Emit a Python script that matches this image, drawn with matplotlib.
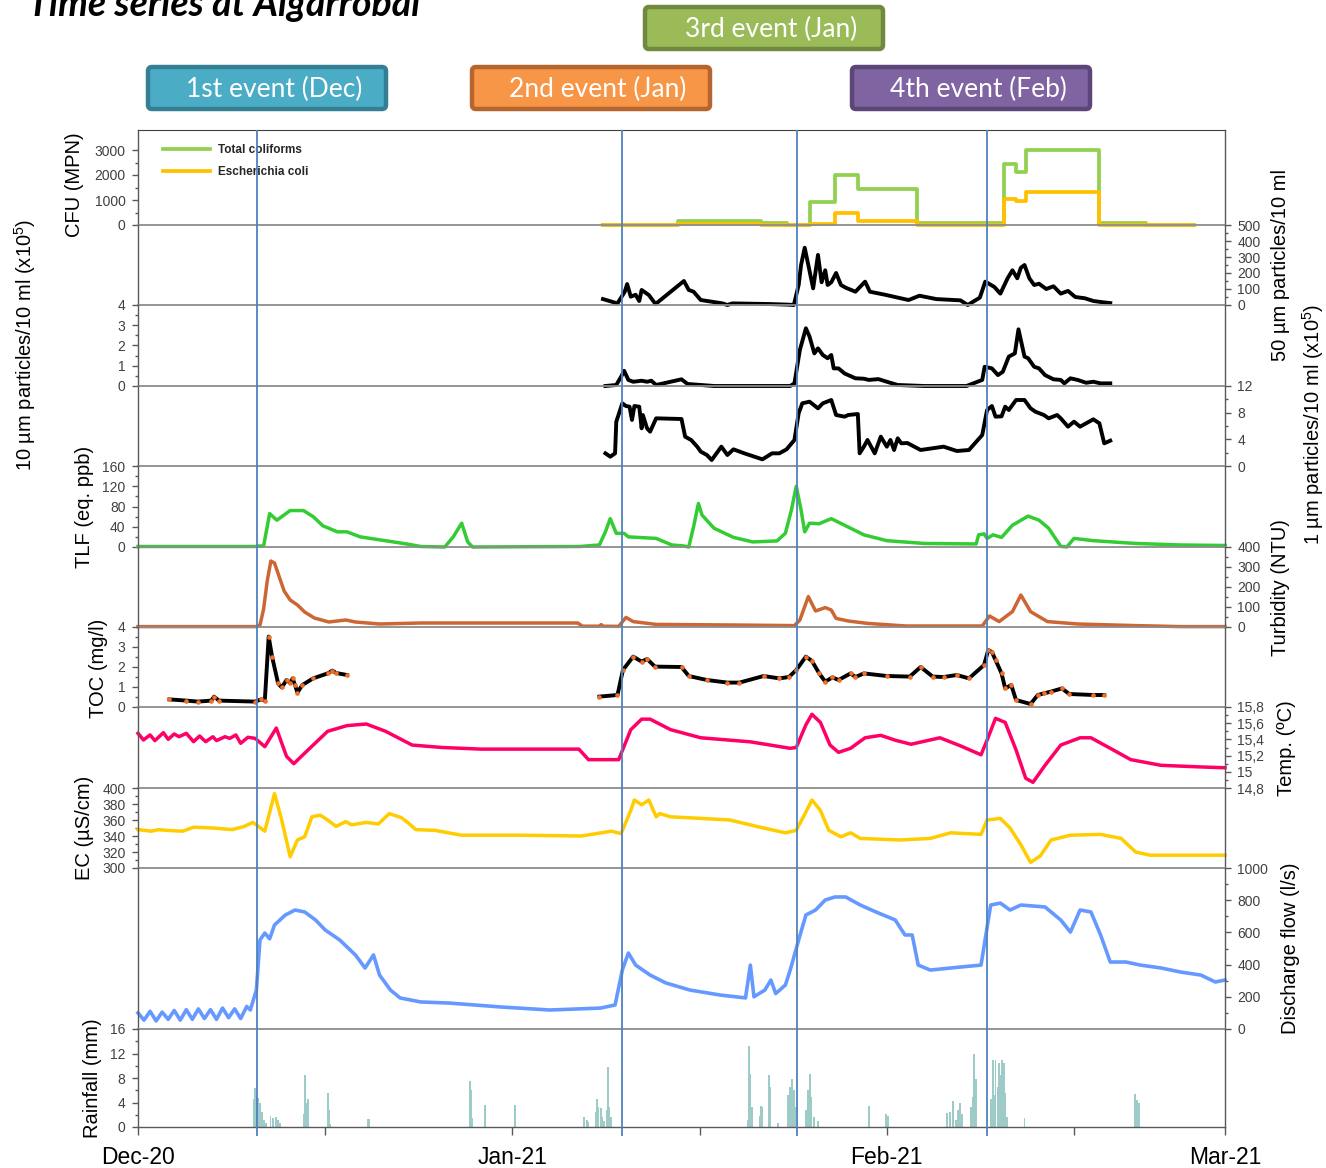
import numpy as np
import matplotlib
matplotlib.use('Agg')
import matplotlib.pyplot as plt
from matplotlib.patches import FancyBboxPatch
from matplotlib.ticker import FixedLocator, FixedFormatter

plt.rcParams['font.family'] = ['Liberation Sans', 'DejaVu Sans']
plt.rcParams['mathtext.fontset'] = 'custom'
plt.rcParams['mathtext.rm'] = 'Liberation Sans'
plt.rcParams['mathtext.it'] = 'Liberation Sans:italic'

# time in days counted from 1 Dec 2020 (Dec-20 = 0, Jan-21 = 31, Feb-21 = 62, Mar-21 = 90)
month_days = [0, 31, 62, 90]
month_labels = ['Dec-20', 'Jan-21', 'Feb-21', 'Mar-21']
event_days = [9.85, 40.05, 54.55, 70.3]
event_names = ['1st event (Dec)', '2nd event (Jan)', '3rd event (Jan)', '4th event (Feb)']

# CFU (MPN) step series
tc_day = [38.5, 44.7, 51.6, 53.7, 55.6, 57.7, 59.6, 64.5, 71.7, 72.7, 73.5, 79.6, 83.5, 87.4]
tc_val = [0, 173, 80, 0, 907, 2000, 1427, 80, 2427, 2107, 3000, 67, 0, 0]
ecoli_day = [38.5, 40.5, 44.7, 51.6, 55.6, 57.7, 59.6, 64.5, 71.7, 72.7, 73.5, 79.6, 87.4]
ecoli_val = [0, 10, 50, 5, 27, 480, 160, 0, 1040, 970, 1307, 0, 0]

# 50 um particles/10 ml
p50_day = [38.5, 39.7, 40.3, 40.5, 40.8, 41.2, 41.5, 41.7, 42.3, 42.85, 45.2, 45.6, 46.0, 46.6, 48.4,
           48.8, 49.2, 52.3, 53.9, 54.3, 54.7, 54.9, 55.2, 55.5, 55.9, 56.3, 56.6, 56.9, 57.1, 57.4,
           57.8, 58.2, 58.6, 59.4, 60.2, 60.6, 61.8, 63.8, 64.7, 66.1, 68.1, 68.7, 69.7, 70.15, 70.9,
           71.4, 72.0, 72.4, 72.8, 73.1, 73.4, 73.8, 74.2, 74.6, 75.2, 75.8, 76.4, 77.0, 77.6, 78.4,
           79.1, 79.9, 80.5]
p50_val = [37, 10, 83, 131, 52, 64, 25, 94, 62, 6, 150, 94, 83, 31, 10,
           0, 10, 6, 2, 0, 125, 250, 358, 250, 104, 313, 142, 217, 125, 142,
           200, 125, 108, 83, 146, 83, 65, 31, 58, 37, 29, 0, 46, 146, 113,
           71, 167, 217, 167, 233, 250, 167, 125, 133, 100, 117, 71, 88, 50, 42,
           25, 17, 12]

# 10 um particles/10 ml (x10^5)
p10_day = [38.7, 39.6, 40.0, 40.25, 40.6, 41.0, 41.7, 42.15, 42.5, 42.9, 45.0, 45.5, 47.7, 54.0, 54.35,
           54.8, 55.3, 55.6, 56.0, 56.3, 56.7, 57.1, 57.4, 57.6, 58.0, 58.5, 59.4, 60.1, 60.5, 61.3,
           62.0, 62.9, 65.1, 68.6, 69.9, 70.1, 70.7, 71.2, 71.6, 72.1, 72.6, 72.9, 73.4, 73.7, 74.2,
           74.6, 75.1, 75.8, 76.4, 76.7, 77.2, 77.8, 78.5, 79.1, 79.7, 80.5]
p10_val = [0, 0.05, 0.46, 0.75, 0.30, 0.21, 0.26, 0.21, 0.26, 0.05, 0.33, 0.10, 0, 0, 0.13,
           1.78, 2.85, 2.44, 1.61, 1.86, 1.53, 1.37, 1.53, 0.87, 0.87, 0.62, 0.38, 0.36, 0.30, 0.34,
           0.21, 0.05, 0, 0, 0.30, 0.95, 0.87, 0.54, 0.70, 1.45, 1.61, 2.80, 1.45, 1.37, 0.95,
           0.87, 0.54, 0.33, 0.30, 0.13, 0.38, 0.30, 0.16, 0.21, 0.13, 0.13]

# 1 um particles/10 ml (x10^5)
p1_day = [38.7, 39.1, 39.5, 39.6, 40.1, 40.4, 40.7, 40.9, 41.1, 41.5, 41.7, 41.8, 42.15, 42.4, 42.9,
          45.0, 45.3, 45.8, 46.3, 46.6, 47.1, 47.5, 48.3, 48.8, 49.3, 50.2, 51.7, 52.5, 53.1, 53.7,
          54.35, 54.7, 55.0, 55.6, 56.3, 56.7, 57.4, 57.8, 58.5, 58.8, 59.6, 59.75, 60.1, 60.4, 60.7,
          61.0, 61.5, 62.0, 62.3, 62.6, 62.9, 63.2, 63.7, 64.8, 66.7, 67.8, 68.8, 69.9, 70.3, 70.7,
          71.0, 71.5, 71.8, 72.1, 72.7, 73.4, 73.9, 74.3, 75.0, 75.4, 76.1, 76.4, 77.0, 77.5, 78.0,
          78.5, 79.1, 79.6, 80.0, 80.5]
p1_val = [1.9, 1.4, 1.9, 6.65, 9.4, 9.0, 8.9, 6.9, 9.0, 8.9, 5.65, 7.65, 5.65, 5.15, 7.15,
          7.05, 4.4, 3.9, 2.9, 2.15, 1.65, 0.9, 2.9, 1.65, 2.5, 1.9, 1.0, 1.9, 1.9, 2.5,
          3.9, 7.9, 9.4, 9.65, 8.65, 9.4, 9.9, 7.65, 7.4, 7.65, 7.8, 1.9, 2.9, 3.9, 2.9,
          1.9, 4.4, 2.9, 3.9, 2.4, 4.15, 3.4, 3.45, 2.4, 2.9, 2.25, 2.4, 4.65, 8.4, 9.0,
          7.4, 7.45, 8.9, 8.4, 9.9, 9.9, 8.65, 8.15, 7.65, 7.15, 7.65, 7.15, 5.9, 6.65, 5.9,
          6.4, 7.0, 6.4, 3.4, 3.8]

# TLF (eq. ppb)
tlf_day = [0, 9.7, 10.0, 10.4, 10.9, 11.5, 12.6, 13.7, 14.5, 15.3, 16.5, 17.3, 18.4, 21.7, 22.5,
           23.4, 25.4, 26.1, 26.8, 27.3, 27.7, 36.6, 38.2, 38.7, 39.1, 39.6, 40.25, 40.6, 42.9, 44.2,
           45.2, 45.6, 46.0, 46.4, 46.7, 47.7, 49.3, 50.9, 52.9, 53.6, 54.1, 54.5, 54.9, 55.2, 55.6,
           56.4, 57.4, 58.5, 60.1, 62.0, 65.1, 69.4, 69.6, 70.05, 70.3, 70.8, 71.5, 72.4, 73.7, 74.6,
           75.4, 76.4, 76.9, 77.5, 79.1, 82.6, 86.3, 90]
tlf_val = [1, 1, 2, 2, 66, 53, 72, 72, 60, 42, 30, 30, 20, 8, 5,
           1, 0, 20, 47, 10, 0, 1, 4, 30, 56, 27, 27, 20, 17, 4,
           2, 0, 40, 86, 63, 37, 19, 10, 12, 27, 73, 120, 73, 30, 47,
           46, 56, 43, 24, 12.5, 7, 6, 24, 26, 17, 24, 19, 43, 61, 53,
           37, 1.3, 0, 17, 12.5, 7, 4, 3]

# Turbidity (NTU)
turb_day = [0, 9.8, 10.1, 10.4, 10.7, 11.0, 11.3, 11.7, 12.1, 12.6, 13.2, 13.8, 14.6, 15.8, 17.2,
            18.0, 20.0, 23.4, 30.0, 36.4, 36.8, 38.2, 38.35, 38.5, 39.8, 40.4, 41.0, 42.9, 49.3, 54.35,
            54.8, 55.5, 56.1, 56.9, 57.4, 57.8, 58.8, 60.4, 63.6, 69.9, 70.5, 71.3, 72.4, 73.1, 73.9,
            75.3, 77.8, 82.6, 86.3, 90]
turb_val = [2, 2, 10, 90, 230, 330, 320, 250, 180, 135, 110, 75, 45, 25, 35,
            25, 15, 20, 20, 20, 4, 4, 12, 4, 3, 48, 27, 13, 10, 7,
            35, 152, 80, 97, 85, 43, 30, 18, 5, 5, 55, 27, 77, 160, 77,
            27, 15, 7, 2, 2]

# TOC (mg/l), gap between the two sampling campaigns
toc_day = [2.6, 4.0, 4.95, 6.07, 6.3, 6.7, 9.7, 10.2, 10.5, 10.82, 11.1, 11.6, 11.9, 12.3, 12.6,
           12.8, 13.0, 13.2, 13.6, 14.5, 15.7, 16.1, 16.4, 17.3, np.nan,
           38.2, 39.7, 40.15, 41.0, 41.7, 42.15, 42.8, 45.0, 45.6, 47.1, 48.8, 49.8, 51.8, 53.1, 53.9,
           54.5, 55.3, 55.8, 56.4, 56.9, 57.5, 58.0, 59.0, 59.4, 60.1, 62.0, 63.9, 64.8, 65.8, 66.7,
           67.8, 68.8, 70.05, 70.4, 70.7, 71.0, 71.5, 71.8, 72.3, 72.7, 73.9, 74.5, 75.0, 75.6, 76.5,
           77.1, 79.1, 80.0]
toc_val = [0.38, 0.32, 0.27, 0.32, 0.52, 0.32, 0.27, 0.38, 0.32, 3.52, 2.52, 1.18, 0.98, 1.35, 1.2,
           1.43, 1.1, 0.72, 1.1, 1.43, 1.68, 1.82, 1.7, 1.6, np.nan,
           0.52, 0.6, 1.85, 2.52, 2.27, 2.4, 2.02, 2.0, 1.55, 1.35, 1.22, 1.22, 1.55, 1.43, 1.5,
           1.85, 2.52, 2.3, 1.68, 1.27, 1.48, 1.35, 1.68, 1.5, 1.68, 1.55, 1.52, 2.0, 1.52, 1.5,
           1.6, 1.43, 2.1, 2.85, 2.75, 2.35, 1.68, 0.93, 1.1, 0.35, 0.15, 0.6, 0.68, 0.77, 0.93,
           0.65, 0.6, 0.6]

# Temperature (C)
temp_day = [0, 0.45, 1.0, 1.4, 2.1, 2.5, 3.0, 3.4, 4.0, 4.6, 5.1, 5.6, 6.2, 6.5, 7.2,
            7.6, 8.1, 8.5, 9.1, 9.7, 10.5, 11.45, 12.3, 12.9, 13.8, 15.7, 17.3, 18.9, 20.5, 22.7,
            25.2, 28.4, 36.5, 37.3, 39.8, 40.8, 41.7, 42.4, 44.1, 46.6, 50.7, 54.0, 54.5, 55.3, 55.8,
            56.5, 57.3, 58.0, 59.0, 60.2, 61.5, 62.7, 64.0, 65.2, 66.4, 68.1, 69.8, 70.3, 71.0, 71.8,
            72.7, 73.5, 74.1, 75.1, 76.4, 78.0, 78.9, 80.5, 82.2, 84.7, 88.0, 90]
temp_val = [15.475, 15.393, 15.455, 15.385, 15.483, 15.401, 15.467, 15.433, 15.475, 15.372, 15.442,
            15.372, 15.433, 15.385, 15.433, 15.413, 15.455, 15.352, 15.426, 15.413, 15.31, 15.54,
            15.19, 15.10, 15.23, 15.50, 15.57, 15.59, 15.50, 15.33, 15.30, 15.28, 15.28, 15.15,
            15.15, 15.52, 15.65, 15.65, 15.52, 15.42, 15.37, 15.29, 15.30, 15.58, 15.71, 15.61,
            15.33, 15.24, 15.29, 15.42, 15.45, 15.39, 15.34, 15.38, 15.42, 15.32, 15.21, 15.39,
            15.66, 15.61, 15.27, 14.92, 14.87, 15.08, 15.33, 15.42, 15.42, 15.29, 15.15, 15.08,
            15.06, 15.05]

# EC (uS/cm)
ec_day = [0, 1.1, 1.7, 2.4, 3.7, 4.6, 6.2, 7.8, 8.8, 9.5, 9.8, 10.5, 11.3, 11.9, 12.6,
          13.2, 13.8, 14.4, 15.1, 15.7, 16.4, 17.2, 17.7, 18.9, 19.9, 20.8, 21.8, 22.4, 23.0, 24.6,
          26.8, 31.6, 36.7, 39.2, 40.0, 40.8, 41.1, 41.7, 42.3, 42.9, 43.2, 44.1, 46.6, 49.0, 51.5,
          53.6, 54.5, 55.3, 55.8, 56.5, 57.2, 58.2, 59.0, 59.8, 63.1, 65.6, 67.3, 69.8, 70.3, 71.4,
          72.2, 73.1, 73.9, 74.7, 75.6, 77.2, 79.7, 81.4, 82.6, 83.8, 90]
ec_val = [348, 346, 348, 347, 346, 351, 350, 348, 352, 357, 354, 346, 393, 360, 314,
          335, 339, 364, 366, 360, 352, 358, 354, 357, 355, 368, 363, 356, 348, 347,
          341, 341, 340, 346, 343, 372, 385, 379, 385, 364, 368, 364, 362, 360, 351,
          344, 347, 370, 385, 372, 347, 339, 344, 337, 335, 337, 344, 342, 360, 362,
          350, 329, 307, 315, 335, 341, 342, 337, 320, 316, 316]

# Discharge flow (l/s)
q_day = [0, 0.5, 1.0, 1.5, 2.0, 2.5, 3.0, 3.5, 4.0, 4.5, 5.0, 5.5, 6.0, 6.5, 7.0,
         7.5, 8.0, 8.5, 9.0, 9.3, 9.8, 10.1, 10.5, 10.9, 11.3, 12.2, 13.0, 13.8, 14.7, 15.5,
         16.7, 18.0, 18.8, 19.5, 20.0, 20.9, 21.7, 23.4, 25.8, 30.0, 34.1, 38.3, 39.5, 40.1, 40.6,
         41.2, 42.4, 43.7, 45.7, 48.2, 50.3, 50.7, 51.0, 51.9, 52.4, 52.8, 53.6, 54.0, 54.7, 55.3,
         56.1, 56.9, 57.7, 58.6, 59.8, 61.1, 62.7, 63.5, 64.1, 64.6, 65.6, 67.3, 69.8, 70.2, 70.6,
         71.4, 72.2, 73.1, 75.1, 76.4, 77.2, 78.0, 78.9, 79.7, 80.5, 81.8, 83.0, 84.7, 86.3, 88.0,
         89.2, 90]
q_val = [100, 55, 110, 50, 105, 60, 115, 55, 120, 60, 125, 65, 120, 60, 130,
         70, 125, 65, 140, 118, 242, 553, 596, 560, 646, 708, 739, 727, 677, 615,
         553, 460, 379, 460, 335, 242, 193, 168, 161, 137, 118, 130, 149, 366, 472,
         397, 335, 286, 242, 211, 193, 397, 200, 242, 304, 220, 273, 366, 553, 708,
         739, 801, 820, 820, 770, 727, 677, 584, 584, 397, 366, 379, 397, 584, 770,
         782, 739, 770, 758, 677, 602, 739, 727, 584, 416, 416, 397, 379, 354, 335,
         292, 304]

# Rainfall (mm)
rain_day = [9.58, 9.65, 9.76, 9.85, 9.93, 10.1, 10.3, 10.45, 10.6, 10.97, 11.2, 11.4, 11.6, 11.75,
            13.77, 13.86, 13.95, 14.05, 14.1, 15.7, 15.75, 15.82, 15.9, 19.0, 19.1,
            27.45, 27.5, 27.58, 27.65, 28.75, 31.2,
            36.95, 37.15, 37.3, 37.9, 38.0, 38.1, 38.35, 38.45, 38.6, 38.8, 38.9, 39.0, 39.15,
            50.53, 50.6, 50.7, 50.8, 51.46, 51.6, 51.7, 52.25, 52.35, 53.0,
            53.8, 54.0, 54.17, 54.3, 54.4, 55.3, 55.5, 55.65, 55.75, 55.98, 56.3,
            60.52, 61.9, 62.1,
            67.0, 67.2, 67.5, 67.7, 67.9, 68.06, 68.2, 68.98, 69.1, 69.25, 69.38,
            70.64, 70.77, 70.9, 71.0, 71.17, 71.3, 71.43, 71.56, 71.7, 71.8, 71.96, 73.4,
            82.55, 82.7, 82.85]
rain_mm = [4.5, 6.4, 4.9, 4.8, 4.8, 3.9, 2.5, 1.2, 0.6, 1.8, 1.5, 1.6, 1.2, 0.6,
           2.2, 8.5, 3.9, 4.6, 2.0, 2.5, 5.6, 2.8, 0.5, 1.3, 1.3,
           4.0, 7.5, 6.0, 1.5, 3.6, 3.6,
           1.7, 1.2, 0.8, 2.5, 4.5, 3.3, 3.1, 1.7, 0.9, 2.8, 9.8, 3.3, 1.7,
           1.1, 13.2, 8.7, 3.3, 1.8, 3.5, 3.3, 8.5, 6.6, 0.7,
           5.2, 6.6, 7.9, 6.0, 3.3, 2.8, 6.0, 8.6, 4.9, 1.7, 0.9,
           3.4, 2.2, 1.8,
           2.3, 2.5, 4.2, 1.1, 2.8, 3.9, 2.2, 3.3, 4.9, 12.0, 7.9,
           4.6, 11.0, 5.2, 10.9, 6.6, 10.4, 8.5, 11.0, 10.4, 5.5, 1.7, 1.4,
           5.4, 4.4, 3.9]

W, H = 1326, 1168
L, R = 138, 1225
fig = plt.figure(figsize=(W / 100, H / 100), dpi=100)
spine_col = '#595959'
grid_col = '#8c8c8c'


def panel(top, bot, ylim, side, major, minor, labels=None, first=False):
    ax = fig.add_axes([L / W, 1 - bot / H, (R - L) / W, (bot - top) / H])
    ax.patch.set_visible(False)
    ax.set_xlim(0, 90)
    ax.set_ylim(*ylim)
    for s in ['left', 'right']:
        ax.spines[s].set_color(spine_col)
        ax.spines[s].set_linewidth(1.0)
    ax.spines['bottom'].set_color(grid_col)
    ax.spines['bottom'].set_linewidth(1.3)
    ax.spines['top'].set_visible(first)
    ax.spines['top'].set_color('#404040')
    ax.tick_params(axis='x', which='both', bottom=False, labelbottom=False)
    if side == 'left':
        ax.yaxis.tick_left()
    else:
        ax.yaxis.tick_right()
    ax.yaxis.set_major_locator(FixedLocator(major))
    if labels is None:
        labels = [str(v) for v in major]
    ax.yaxis.set_major_formatter(FixedFormatter(labels))
    ax.yaxis.set_minor_locator(FixedLocator(minor))
    ax.tick_params(axis='y', which='major', direction='out', length=4, width=1,
                   color=spine_col, labelsize=10, labelcolor='#404040', pad=5)
    ax.tick_params(axis='y', which='minor', direction='out', length=2.5, width=1, color=spine_col)
    return ax


def line(ax, x, y, color, lw=2.5, **kw):
    ax.plot(x, y, color=color, lw=lw, clip_on=False, solid_joinstyle='round', **kw)


# CFU
ax = panel(130, 225, (0, 3800), 'left', [0, 1000, 2000, 3000], [500, 1500, 2500], first=True)
ax.step(tc_day, tc_val, where='post', color='#92D050', lw=2.7, clip_on=False, label='Total coliforms')
ax.step(ecoli_day, ecoli_val, where='post', color='#FFC000', lw=2.7, clip_on=False, label='Escherichia coli')
leg = ax.legend(loc='upper left', bbox_to_anchor=(0.023, 0.85), frameon=False, borderpad=0,
                borderaxespad=0, handlelength=4.0, handletextpad=0.7, labelspacing=0.85,
                prop={'size': 8.5, 'weight': 'bold'})
for t in leg.get_texts():
    t.set_color('#262626')

# 50 um
ax = panel(225, 305, (0, 500), 'right', [0, 100, 200, 300, 400, 500], [50, 150, 250, 350, 450])
line(ax, p50_day, p50_val, 'black', lw=2.8)

# 10 um
ax = panel(305, 386, (0, 4), 'left', [0, 1, 2, 3, 4], [0.5, 1.5, 2.5, 3.5])
line(ax, p10_day, p10_val, 'black', lw=2.8)

# 1 um
ax = panel(386, 466, (0, 12), 'right', [0, 4, 8, 12], [2, 6, 10])
line(ax, p1_day, p1_val, 'black', lw=2.8)

# TLF
ax = panel(466, 547, (0, 160), 'left', [0, 40, 80, 120, 160], [20, 60, 100, 140])
line(ax, tlf_day, tlf_val, '#33CC33')

# Turbidity
ax = panel(547, 627, (0, 400), 'right', [0, 100, 200, 300, 400], [50, 150, 250, 350])
line(ax, turb_day, turb_val, '#CC6633')

# TOC
ax = panel(627, 707, (0, 4), 'left', [0, 1, 2, 3, 4], [0.5, 1.5, 2.5, 3.5])
line(ax, toc_day, toc_val, 'black', lw=2.8, marker='o', ms=2.3, mfc='#F0702A', mec='#F0702A')

# Temperature
ax = panel(707, 788, (14.8, 15.8), 'right', [14.8, 15.0, 15.2, 15.4, 15.6, 15.8],
           [14.9, 15.1, 15.3, 15.5, 15.7], labels=['14,8', '15', '15,2', '15,4', '15,6', '15,8'])
line(ax, temp_day, temp_val, '#FF0066')

# EC
ax = panel(788, 868, (300, 400), 'left', [300, 320, 340, 360, 380, 400], [310, 330, 350, 370, 390])
line(ax, ec_day, ec_val, '#FFCC00')

# Discharge
ax = panel(868, 1029, (0, 1000), 'right', [0, 200, 400, 600, 800, 1000], [100, 300, 500, 700, 900])
line(ax, q_day, q_val, '#6699FF', lw=2.6)

# Rainfall
ax = panel(1029, 1127, (0, 16), 'left', [0, 4, 8, 12, 16], [2, 6, 10, 14])
ax.bar(rain_day, rain_mm, width=0.16, color='#9CCBC8', linewidth=0)
ax.spines['bottom'].set_color(spine_col)
ax.spines['bottom'].set_linewidth(1.0)
ax.tick_params(axis='x', which='both', bottom=True, labelbottom=True)
ax.xaxis.set_major_locator(FixedLocator(month_days))
ax.xaxis.set_major_formatter(FixedFormatter(month_labels))
ax.xaxis.set_minor_locator(FixedLocator([15.5, 46.5, 77.5]))
ax.tick_params(axis='x', which='both', direction='out', length=6, width=1, color=spine_col,
               labelsize=16.5, labelcolor='black', pad=8)

# event lines across all panels
ov = fig.add_axes([L / W, 1 - 1136 / H, (R - L) / W, (1136 - 130) / H])
ov.set_xlim(0, 90)
ov.set_ylim(0, 1)
ov.axis('off')
for d in event_days:
    ov.axvline(d, color='#4F81BD', lw=1.3)

# labels, boxes and title in pixel space
top = fig.add_axes([0, 0, 1, 1])
top.set_xlim(0, W)
top.set_ylim(H, 0)
top.axis('off')

boxes = [(148, 67, '#4BACC6', '#357F93'), (472, 67, '#F79646', '#B5662F'),
         (645, 7, '#9BBB59', '#71893F'), (852, 67, '#8064A2', '#5B4677')]
for (bx, by, fc, ec), name in zip(boxes, event_names):
    top.add_patch(FancyBboxPatch((bx, by), 238, 42, boxstyle='round,pad=0,rounding_size=4',
                                 fc=fc, ec=ec, lw=3.2))
    top.text(bx + 126, by + 22, name, ha='center', va='center', color='white',
             fontsize=19, family=['Lato', 'DejaVu Sans'])

top.text(28, 16, 'Time series at Algarrobal', ha='left', va='baseline', fontsize=27,
         fontweight='bold', fontstyle='italic', family=['Lato', 'DejaVu Sans'])

lab = dict(rotation=90, ha='center', va='center', fontsize=14.5, color='black')
top.text(75, 185, 'CFU (MPN)', **lab)
top.text(25, 345, '10 µm particles/10 ml (x10$^5$)', **lab)
top.text(84, 507, 'TLF (eq. ppb)', **lab)
top.text(98, 668, 'TOC (mg/l)', **lab)
top.text(84, 828, 'EC (µS/cm)', **lab)
top.text(92, 1078, 'Rainfall (mm)', **lab)
top.text(1280, 265, '50 µm particles/10 ml', **lab)
top.text(1313, 424, '1 µm particles/10 ml (x10$^5$)', **lab)
top.text(1280, 588, 'Turbidity (NTU)', **lab)
top.text(1287, 748, 'Temp. (ºC)', **lab)
top.text(1290, 948, 'Discharge flow (l/s)', **lab)

fig.savefig('out.png', dpi=100)
